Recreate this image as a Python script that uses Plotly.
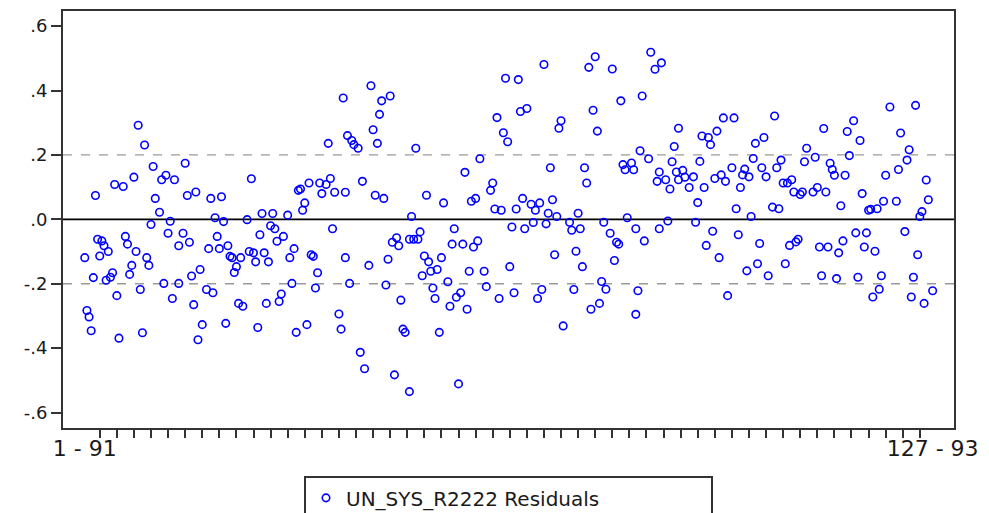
import plotly.graph_objects as go

obs_a = [1, 2, 3, 4, 5, 6, 7, 8, 9, 10, 11, 12, 13, 14, 15, 16, 17, 19, 20, 21, 22, 23, 24, 25, 26, 27, 28, 29, 30, 31,
         32, 33, 34, 36, 37, 38, 39, 40, 41, 42, 43, 45, 45, 47, 48, 49, 50, 51, 52, 53, 54, 55, 56]
res_a = [-0.119, -0.283, -0.303, -0.346, -0.181, 0.074, -0.062, -0.114, -0.067, -0.082, -0.189, -0.100, -0.180, -0.166,
         0.108, -0.237, -0.369, 0.102, -0.053, -0.077, -0.171, -0.143, 0.131, -0.100, 0.292, -0.218, -0.352, 0.231,
         -0.119, -0.143, -0.016, 0.164, 0.065, 0.022, 0.123, -0.199, 0.137, -0.043, -0.006, -0.246, 0.123, -0.199,
         -0.082, -0.043, 0.174, 0.074, -0.071, -0.176, -0.265, 0.085, -0.374, -0.156, -0.327]

obs_b = [58, 59, 60, 61, 62, 63, 64, 65, 66, 67, 68, 69, 70, 71, 72, 73, 74, 75, 77, 78, 79, 80, 81, 82, 83, 84, 85, 86,
         87, 88, 89, 90, 91, 92, 93, 94, 96, 97, 98, 99, 100, 101, 102, 103, 104, 105, 106, 107, 108, 109, 110, 111, 112]
res_b = [-0.218, -0.091, 0.065, -0.228, 0.005, -0.053, -0.091, 0.070, -0.007, -0.323, -0.082, -0.115, -0.119, -0.165,
         -0.147, -0.261, -0.119, -0.270, -0.001, -0.100, 0.126, -0.104, -0.132, -0.336, -0.048, 0.018, -0.104, -0.261,
         -0.132, -0.020, 0.018, -0.029, -0.068, -0.255, -0.232, -0.053, 0.013, -0.119, -0.199, -0.091, -0.351, 0.090,
         0.094, 0.028, 0.051, -0.327, 0.113, -0.110, -0.115, -0.213, -0.166, 0.113, 0.080]

obs_c = [114, 115, 116, 117, 118, 120, 121, 122, 123, 123, 124, 125, 126, 127, 129, 130, 131, 132, 134, 135, 136, 137,
         138, 139, 140, 141, 142, 143, 144, 145, 146, 147, 148, 149, 150, 151, 153, 153, 154, 155, 156, 157, 158, 159,
         160, 161, 162, 163, 164, 165, 166, 167, 168]
res_c = [0.108, 0.236, 0.127, -0.029, 0.084, -0.294, -0.341, 0.377, -0.119, 0.084, 0.260, -0.199, 0.245, 0.232, 0.221,
         -0.413, 0.118, -0.464, -0.143, 0.415, 0.278, 0.075, 0.236, 0.326, 0.368, 0.065, -0.204, -0.124, 0.383, -0.071,
         -0.483, -0.057, -0.082, -0.251, -0.341, -0.351, -0.062, -0.535, 0.009, -0.062, 0.221, -0.062, -0.039, -0.175,
         -0.114, 0.075, -0.132, -0.161, -0.213, -0.246, -0.156, -0.351, -0.119]

obs_d = [169, 171, 172, 173, 174, 175, 176, 177, 178, 179, 180, 181, 182, 183, 184, 185, 186, 188, 189, 191, 192, 193,
         194, 195, 196, 197, 198, 199, 200, 201, 202, 203, 204, 205, 206, 207, 208, 210, 211, 212, 213, 214, 215, 216,
         217, 218, 219, 220, 221, 222, 223, 224, 225]
res_d = [0.051, -0.194, -0.270, -0.077, -0.029, -0.242, -0.511, -0.228, -0.077, 0.146, -0.279, -0.161, 0.056, -0.086,
         0.065, -0.067, 0.188, -0.161, -0.209, 0.090, 0.113, 0.032, 0.316, -0.246, 0.028, 0.269, 0.438, 0.241, -0.147,
         -0.024, -0.228, 0.032, 0.434, 0.335, 0.065, -0.029, 0.344, 0.047, -0.010, 0.028, -0.246, 0.051, -0.218, 0.481,
         -0.014, 0.019, 0.160, 0.061, -0.110, 0.009, 0.283, 0.306, -0.331]

obs_e = [228, 229, 230, 231, 232, 233, 234, 235, 236, 237, 238, 239, 240, 241, 242, 243, 244, 245, 247, 248, 249, 250,
         251, 252, 253, 254, 255, 257, 258, 259, 259, 260, 261, 262, 263, 265, 266, 268, 269, 270, 270, 271, 273, 274,
         275, 276, 277, 278, 279, 279, 281, 282]
res_e = [-0.009, -0.034, -0.218, -0.099, 0.019, -0.029, -0.147, 0.160, 0.113, 0.472, -0.279, 0.339, 0.505, 0.274,
         -0.261, -0.193, -0.009, -0.217, -0.043, 0.467, -0.128, -0.071, -0.077, 0.368, 0.170, 0.154, 0.005, 0.175,
         0.154, -0.029, -0.295, -0.222, 0.213, 0.383, -0.067, 0.188, 0.519, 0.466, 0.118, 0.147, -0.029, 0.486, 0.123,
         -0.005, 0.094, 0.179, 0.226, 0.147, 0.283, 0.123, 0.152, 0.131]

obs_f = [284, 286, 287, 288, 289, 290, 291, 292, 293, 294, 295, 296, 297, 298, 299, 300, 301, 302, 304, 305, 306, 307,
         308, 309, 310, 311, 312, 313, 314, 315, 316, 317, 318, 319, 320, 321, 323, 324, 325, 326, 327, 328, 329, 330,
         331, 332, 333, 334, 335, 336]
res_f = [0.099, 0.132, -0.009, 0.052, 0.180, 0.259, 0.099, -0.081, 0.254, 0.232, -0.037, 0.127, 0.274, -0.119, 0.138,
         0.315, 0.118, -0.237, 0.160, 0.315, 0.033, -0.048, 0.099, 0.138, 0.156, -0.160, 0.132, 0.009, 0.189, 0.236,
         -0.138, -0.075, 0.160, 0.254, 0.132, -0.175, 0.038, 0.321, 0.160, 0.033, 0.184, 0.113, -0.138, 0.113, -0.081,
         0.123, 0.085, -0.070, -0.062, 0.077]

obs_g = [337, 338, 339, 342, 343, 344, 345, 346, 347, 348, 349, 350, 351, 352, 353, 354, 355, 356, 357, 358, 359, 361,
         362, 363, 364, 365, 366, 367, 368, 369, 370, 371, 372, 373, 374, 375, 376, 378, 381, 382, 383, 385, 386, 387,
         388, 389, 390, 391, 392, 393, 394, 395, 396, 398]
res_g = [0.085, 0.179, 0.221, 0.085, 0.193, 0.099, -0.086, -0.175, 0.282, 0.085, -0.086, 0.174, 0.155, 0.137, -0.184,
         -0.104, 0.042, -0.067, 0.137, 0.273, 0.198, 0.306, -0.042, -0.180, 0.245, 0.080, -0.086, -0.042, 0.028, 0.031,
         -0.241, -0.099, 0.033, -0.217, -0.175, 0.056, 0.137, 0.349, 0.056, 0.155, 0.268, -0.038, 0.184, 0.216, -0.241,
         -0.180, 0.354, -0.110, 0.009, 0.024, -0.261, 0.122, 0.061, -0.222]

obs = obs_a + obs_b + obs_c + obs_d + obs_e + obs_f + obs_g
resid = res_a + res_b + res_c + res_d + res_e + res_f + res_g

series_name = "UN_SYS_R2222 Residuals"
xtick_obs = [1, 398]
xtick_labels = ["1 - 91", "127 - 93"]
minor_tick_obs = list(range(8, 393, 8))
ytick_vals = [0.6, 0.4, 0.2, 0.0, -0.2, -0.4, -0.6]
ytick_labels = [".6", ".4", ".2", ".0", "-.2", "-.4", "-.6"]
band_levels = [0.2, -0.2]

FONT = "DejaVu Sans"

fig = go.Figure()
fig.add_trace(go.Scatter(
    x=obs, y=resid, mode="markers", name=series_name,
    marker=dict(symbol="circle-open", size=7.5, color="#0000FF", line=dict(width=1.6, color="#0000FF")),
    showlegend=True,
))

shapes = []
for lv in band_levels:
    shapes.append(dict(type="line", xref="paper", x0=0, x1=1, yref="y", y0=lv, y1=lv,
                       line=dict(color="#9a9a9a", width=1.3, dash="dash"), layer="below"))
shapes.append(dict(type="line", xref="paper", x0=0, x1=1, yref="y", y0=0, y1=0,
                   line=dict(color="#000000", width=1.8), layer="below"))

fig.update_layout(
    width=989, height=513,
    margin=dict(l=63, r=35, t=11, b=85, autoexpand=False),
    paper_bgcolor="white", plot_bgcolor="white",
    font=dict(family=FONT, color="#1a1a1a"),
    shapes=shapes,
    showlegend=True,
    legend=dict(
        orientation="h", x=0.5, xanchor="center", y=-0.116, yanchor="top",
        bordercolor="#333333", borderwidth=2, bgcolor="white",
        font=dict(family=FONT, size=20, color="#1a1a1a"),
        entrywidth=360, entrywidthmode="pixels", itemwidth=30,
    ),
)

fig.update_xaxes(
    range=[-9.2, 408.0], showgrid=False, zeroline=False, automargin=False,
    showline=True, linecolor="#333333", linewidth=2, mirror=True,
    tickmode="array", tickvals=xtick_obs, ticktext=xtick_labels, ticks="",
    tickfont=dict(family=FONT, size=22, color="#1a1a1a"),
    minor=dict(tickmode="array", tickvals=minor_tick_obs, ticks="outside", ticklen=8,
               tickwidth=2, tickcolor="#333333", showgrid=False),
)
fig.update_yaxes(
    range=[-0.648, 0.647], showgrid=False, zeroline=False, automargin=False,
    showline=True, linecolor="#333333", linewidth=2, mirror=True,
    tickmode="array", tickvals=ytick_vals, ticktext=ytick_labels,
    ticks="outside", ticklen=10, tickwidth=2, tickcolor="#333333",
    tickfont=dict(family=FONT, size=18, color="#1a1a1a"),
)

fig.write_html("out.html")
